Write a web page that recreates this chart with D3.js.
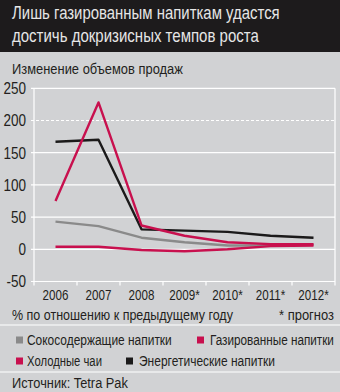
<!DOCTYPE html>
<html><head><meta charset="utf-8">
<script src="https://cdn.jsdelivr.net/npm/d3@7"></script>
<style>
html,body{margin:0;padding:0;background:#d1d2d4;}
svg{display:block;}
text{font-family:"Liberation Sans Narrow","Liberation Sans",Arial,sans-serif;}
</style></head>
<body><svg id="c" width="340" height="392"></svg>
<script>
const categories = ["2006","2007","2008","2009*","2010*","2011*","2012*"];
const yTicks = [-50,0,50,100,150,200,250];
const juice = [43,36,18,11,6,6,7];
const carbonated = [4,4,-1,-3,0,5,6];
const coldTea = [75,228,37,21,11,8,8];
const energy = [167,170,31,29,27,21,18];
const seriesNames = ["Сокосодержащие напитки","Газированные напитки","Холодные чаи","Энергетические напитки"];

const svg = d3.select("#c");
const W=340,H=392;
const bg="#d1d2d4", red="#c8104e", grey="#8a8a8a", black="#1b1a1a", ink="#231f20";
svg.append("rect").attr("width",W).attr("height",H).attr("fill",bg);
svg.append("rect").attr("width",W).attr("height",52).attr("fill","#1d1b1c");

// text placed at (x,y), horizontally compressed to width w (or factor k) via transform
function txt(parent, x, y, s, size, opts={}){
  const t = parent.append("text").attr("x",0).attr("y",y).attr("font-size",size)
    .attr("fill",opts.fill||ink).attr("text-anchor",opts.anchor||"start").text(s);
  const n = t.node().getComputedTextLength();
  const k = opts.w ? opts.w/n : (opts.k||1);
  t.attr("transform",`translate(${x},0) scale(${k},1)`);
  return t;
}

txt(svg,12,19,"Лишь газированным напиткам удастся",17.5,{fill:"#e6e6e6",w:268});
txt(svg,12,42,"достичь докризисных темпов роста",17.5,{fill:"#e6e6e6",w:247});
txt(svg,12,74,"Изменение объемов продаж",14.5,{w:171});

const x = d3.scaleBand().domain(categories).range([34,335]).padding(0);
const y = d3.scaleLinear().domain([-50,250]).range([281.5,88.3]);

const g = svg.append("g");
yTicks.forEach(t=>{
  g.append("line").attr("x1",31).attr("x2",335).attr("y1",y(t)).attr("y2",y(t))
   .attr("stroke","#fff").attr("stroke-width",1.2)
   .attr("stroke-dasharray", t===200 ? "3,2" : null);
  txt(g,26,y(t)+6,String(t),16.5,{anchor:"end",k:0.82});
});
g.append("line").attr("x1",34).attr("x2",34).attr("y1",y(250)).attr("y2",y(-50)+4).attr("stroke","#fff").attr("stroke-width",1.2);
g.append("line").attr("x1",335).attr("x2",335).attr("y1",y(250)).attr("y2",y(-50)+4).attr("stroke","#fff").attr("stroke-width",1.2);
categories.forEach((c,i)=>{
  if(i>0) g.append("line").attr("x1",x(c)).attr("x2",x(c)).attr("y1",y(-50)).attr("y2",y(-50)+4).attr("stroke","#fff").attr("stroke-width",1.2);
  txt(g,x(c)+x.bandwidth()/2,300,c,14.5,{anchor:"middle",k:0.8});
});
txt(svg,12,320,"% по отношению к предыдущему году",14,{w:221});
txt(svg,334,320,"* прогноз",14,{anchor:"end",w:55});

const line = d3.line().x((d,i)=>x(categories[i])+x.bandwidth()/2).y(d=>y(d));
const series = [[juice,grey],[carbonated,red],[energy,black],[coldTea,red]];
series.forEach(([d,c])=>{
  g.append("path").attr("d",line(d)).attr("fill","none").attr("stroke",c).attr("stroke-width",2.4).attr("stroke-linejoin","round");
});

svg.append("line").attr("x1",0).attr("x2",W).attr("y1",325).attr("y2",325).attr("stroke","#fff").attr("stroke-width",1.2);
svg.append("line").attr("x1",0).attr("x2",W).attr("y1",372).attr("y2",372).attr("stroke","#fff").attr("stroke-width",1.2);

const legend = [
  {name:seriesNames[0],color:grey,mx:16,tx:27,y:340,w:145},
  {name:seriesNames[1],color:red,mx:197,tx:210,y:340,w:124},
  {name:seriesNames[2],color:red,mx:16,tx:27,y:361,w:75},
  {name:seriesNames[3],color:black,mx:126,tx:139,y:361,w:136}
];
legend.forEach(l=>{
  svg.append("rect").attr("x",l.mx).attr("y",l.y-3.5).attr("width",7).attr("height",7).attr("fill",l.color);
  txt(svg,l.tx,l.y+5.5,l.name,14.5,{w:l.w});
});
txt(svg,12,388,"Источник: Tetra Pak",14.5,{w:116});
</script></body></html>
